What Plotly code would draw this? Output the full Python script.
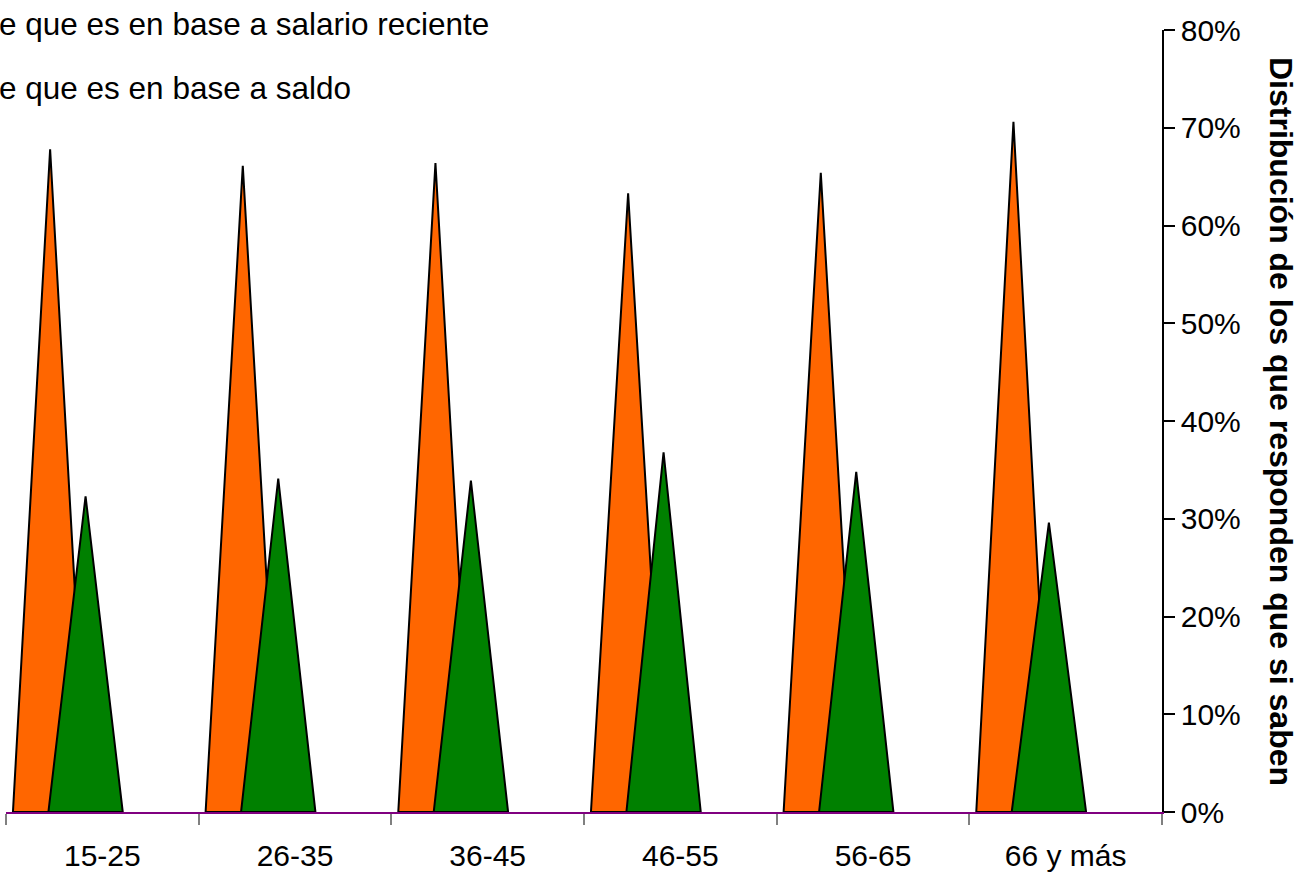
import plotly.graph_objects as go

categories = ["15-25", "26-35", "36-45", "46-55", "56-65", "66 y más"]
salario_reciente = [0.678, 0.661, 0.664, 0.633, 0.654, 0.706]
saldo = [0.323, 0.341, 0.339, 0.368, 0.348, 0.296]
legend_labels = ["e que es en base a salario reciente", "e que es en base a saldo"]
y_title = "Distribución de los que responden que si saben"
y_ticks = [0, 0.1, 0.2, 0.3, 0.4, 0.5, 0.6, 0.7, 0.8]

FONT = "Liberation Sans Narrow, Arial Narrow, Liberation Sans, Arial, sans-serif"
HALF_W = 0.193
OFFSETS = [0.229, 0.413]
COLORS = ["#FF6600", "#008000"]


def triangles(values, offset):
    xs, ys = [], []
    for i, v in enumerate(values):
        c = i + offset
        xs += [c - HALF_W, c, c + HALF_W, c - HALF_W, None]
        ys += [0, v, 0, 0, None]
    return xs, ys


fig = go.Figure()
for vals, off, col, name in zip([salario_reciente, saldo], OFFSETS, COLORS, legend_labels):
    xs, ys = triangles(vals, off)
    fig.add_trace(go.Scatter(
        x=xs, y=ys, mode="lines", fill="toself", fillcolor=col,
        line=dict(color="black", width=2), name=name, showlegend=False,
        hoverinfo="skip"))

fig.update_layout(
    width=1307, height=878,
    margin=dict(l=6, r=145, t=30, b=66, autoexpand=False),
    paper_bgcolor="white", plot_bgcolor="white",
    font=dict(family=FONT, size=30, color="black"),
    xaxis=dict(
        range=[0, len(categories)],
        tickmode="array",
        tickvals=[i + 0.5 for i in range(len(categories))],
        ticktext=categories,
        ticks="",
        showgrid=False, zeroline=False,
        showline=True, linecolor="#800080", linewidth=1.5,
        tickfont=dict(size=30),
        minor=dict(tickmode="array", tickvals=list(range(len(categories) + 1)),
                   ticks="outside", ticklen=11, tickcolor="#808080", tickwidth=1.5,
                   showgrid=False),
        ticklabelstandoff=16,
    ),
    yaxis=dict(
        side="right",
        range=[0, 0.8],
        tickmode="array", tickvals=y_ticks,
        tickformat=".0%",
        ticks="outside", ticklen=11, tickcolor="black", tickwidth=1.5,
        showline=True, linecolor="black", linewidth=1.5,
        showgrid=False, zeroline=False,
        tickfont=dict(size=30),
    ),
)

for i, lbl in enumerate(legend_labels):
    fig.add_annotation(
        text=lbl, xref="paper", yref="paper",
        x=(-3 - 6) / 1156, y=(812 - (24 + 64 * i)) / 782,
        xanchor="left", yanchor="middle", showarrow=False,
        font=dict(size=31.5, family=FONT, color="black"))

fig.add_annotation(
    text="<b>" + y_title + "</b>", xref="paper", yref="paper",
    x=(1281 - 6) / 1156, y=0.5, textangle=90,
    xanchor="center", yanchor="middle", showarrow=False,
    font=dict(size=32, family=FONT, color="black"))

fig.write_html("out.html", post_script="document.body.style.margin='0';",
               config={"displayModeBar": False})
